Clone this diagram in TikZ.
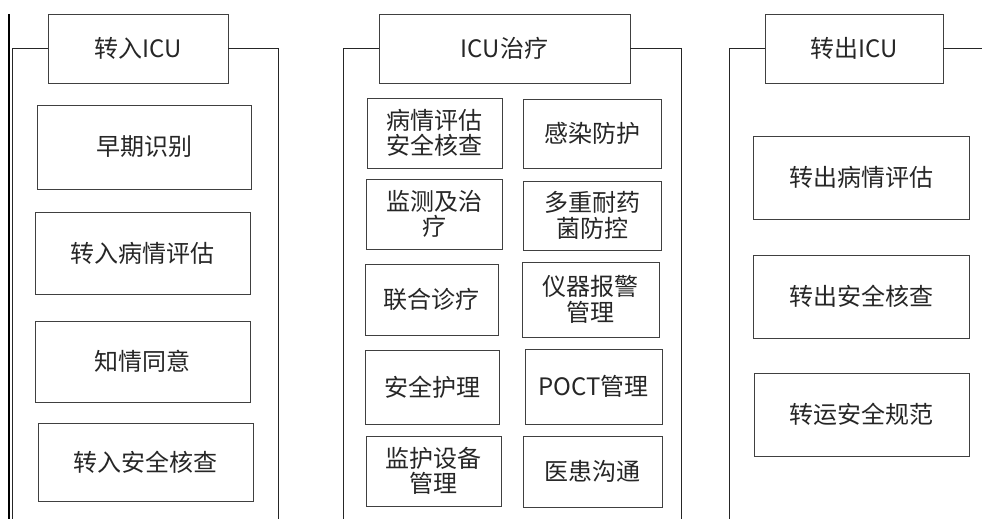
\documentclass[tikz,border=0pt]{standalone}
\usepackage{fontspec}
\setmainfont{Noto Sans CJK SC}
\begin{document}
\begin{tikzpicture}[x=1pt,y=-1pt,
  box/.style={draw=black!75,line width=0.9pt,inner sep=0pt,outer sep=0pt,align=center,
    font=\fontsize{24}{25.5}\selectfont,text=black!85},
  frame/.style={draw=black!85,line width=0.9pt}]
\useasboundingbox (0,0) rectangle (982,519);
\newcommand{\bx}[6]{\node[box,minimum width={#4-#2},minimum height={#5-#3}] (#1) at ({(#2+#4)/2},{(#3+#5)/2}) {#6};}
% title boxes
\bx{t1}{48}{14}{228}{83}{转入ICU}
\bx{t2}{379}{14}{630}{83}{ICU治疗}
\bx{t3}{765}{14}{943}{83}{转出ICU}
% frame coordinates
\coordinate (e1) at (9,14);
\coordinate (e2) at (9,519);
\coordinate (f1l) at (12,519);
\coordinate (f1r) at (278,519);
\coordinate (f2l) at (343,519);
\coordinate (f2r) at (681,519);
\coordinate (f3l) at (729,519);
\coordinate (f3r) at (982,48.5);
\draw[black,line width=2pt] (e1) -- (e2);
\draw[frame] (t1.west) -| (f1l);
\draw[frame] (t1.east) -| (f1r);
\draw[frame] (t2.west) -| (f2l);
\draw[frame] (t2.east) -| (f2r);
\draw[frame] (t3.west) -| (f3l);
\draw[frame] (t3.east) -- (f3r);
% left column
\bx{a1}{37}{105}{251}{189}{早期识别}
\bx{a2}{35}{212}{250}{294}{转入病情评估}
\bx{a3}{35}{321}{250}{402}{知情同意}
\bx{a4}{38}{423}{253}{501}{转入安全核查}
% middle column
\bx{b1}{367}{98}{502}{168}{病情评估\\安全核查}
\bx{b2}{523}{99}{661}{168}{感染防护}
\bx{b3}{366}{179}{502}{249}{监测及治\\疗}
\bx{b4}{523}{181}{661}{250}{多重耐药\\菌防控}
\bx{b5}{365}{264}{498}{335}{联合诊疗}
\bx{b6}{522}{262}{659}{337}{仪器报警\\管理}
\bx{b7}{365}{350}{499}{424}{安全护理}
\bx{b8}{525}{349}{662}{424}{POCT管理}
\bx{b9}{366}{436}{501}{506}{监护设备\\管理}
\bx{b10}{523}{436}{662}{507}{医患沟通}
% right column
\bx{c1}{753}{136}{969}{219}{转出病情评估}
\bx{c2}{753}{255}{969}{338}{转出安全核查}
\bx{c3}{754}{373}{969}{456}{转运安全规范}
\end{tikzpicture}
\end{document}
